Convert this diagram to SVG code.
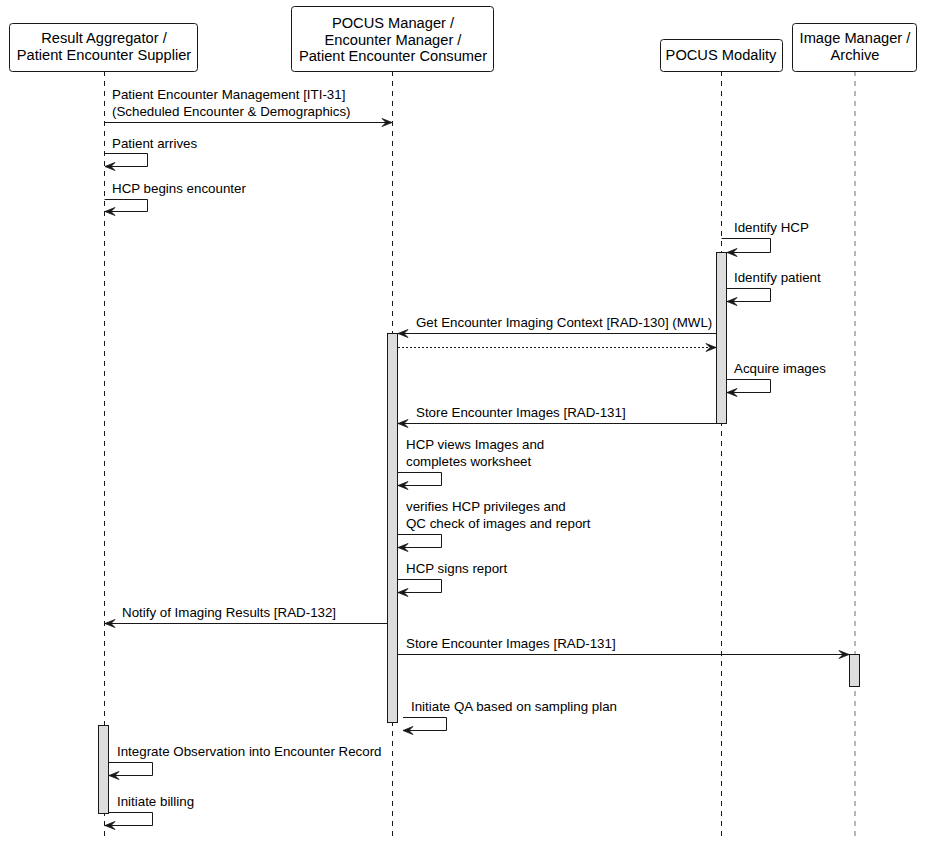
<svg xmlns="http://www.w3.org/2000/svg" width="927" height="843" viewBox="0 0 927 843">
<style>
text{font-family:"Liberation Sans",Arial,sans-serif;font-size:13.33px;fill:#000}
.h{font-size:14.67px;text-anchor:middle}
.box{fill:#fff;stroke:#181818;stroke-width:1}
.life{stroke:#181818;stroke-width:1;stroke-dasharray:5,5;fill:none}
.act{fill:#dddddd;stroke:#181818;stroke-width:1}
.msg{stroke:#181818;stroke-width:1;fill:none;marker-end:url(#ah)}
.ret{stroke:#181818;stroke-width:1;fill:none;stroke-dasharray:2,2;marker-end:url(#ah)}
</style>
<defs>
<marker id="ah" markerUnits="userSpaceOnUse" markerWidth="12" markerHeight="10" refX="11" refY="5" orient="auto">
<path d="M1,1 L11,5 L1,9 L5,5 Z" fill="#181818" stroke="#181818" stroke-width="0.8" stroke-linejoin="miter"/>
</marker>
</defs>
<rect width="927" height="843" fill="#fff"/>
<g id="lifelines">
<line class="life" x1="104.5" y1="71" x2="104.5" y2="838"/>
<line class="life" x1="392.5" y1="71" x2="392.5" y2="838"/>
<line class="life" x1="721.5" y1="71" x2="721.5" y2="838"/>
<line class="life" x1="855" y1="71" x2="855" y2="838" style="stroke:#707070"/>
</g>
<g id="p1">
<rect class="box" x="9.5" y="23.5" width="188" height="48" rx="3"/>
<text class="h" x="104" y="43">Result Aggregator /</text>
<text class="h" x="104" y="60">Patient Encounter Supplier</text>
</g>
<g id="p2">
<rect class="box" x="291.5" y="6.5" width="202" height="65" rx="3"/>
<text class="h" x="393" y="28">POCUS Manager /</text>
<text class="h" x="393" y="45">Encounter Manager /</text>
<text class="h" x="393" y="61">Patient Encounter Consumer</text>
</g>
<g id="p3">
<rect class="box" x="660.5" y="39.5" width="122" height="32" rx="3"/>
<text class="h" x="721" y="60">POCUS Modality</text>
</g>
<g id="p4">
<rect class="box" x="792.5" y="23.5" width="124" height="48" rx="3"/>
<text class="h" x="855" y="43">Image Manager /</text>
<text class="h" x="855" y="60">Archive</text>
</g>
<g id="activations">
<rect class="act" x="716.5" y="252.5" width="10" height="171"/>
<rect class="act" x="387.5" y="333.5" width="10" height="389"/>
<rect class="act" x="849.5" y="654.5" width="10" height="32"/>
<rect class="act" x="98.5" y="725.5" width="10" height="88"/>
</g>
<g id="connectors">
<line class="msg" x1="104.5" y1="122.5" x2="392" y2="122.5"/>
<polyline class="msg" points="104.5,153.5 147.5,153.5 147.5,166.5 105,166.5"/>
<polyline class="msg" points="104.5,199.5 147.5,199.5 147.5,211.5 105,211.5"/>
<polyline class="msg" points="721.5,238.5 770.5,238.5 770.5,252.5 727,252.5"/>
<polyline class="msg" points="727,288.5 770.5,288.5 770.5,301.5 727,301.5"/>
<line class="msg" x1="716" y1="333.5" x2="398" y2="333.5"/>
<line class="ret" x1="398" y1="347.5" x2="716" y2="347.5"/>
<polyline class="msg" points="727,379.5 770.5,379.5 770.5,392.5 727,392.5"/>
<line class="msg" x1="716" y1="423.5" x2="398" y2="423.5"/>
<polyline class="msg" points="398,472.5 441.5,472.5 441.5,485.5 398,485.5"/>
<polyline class="msg" points="398,534.5 441.5,534.5 441.5,547.5 398,547.5"/>
<polyline class="msg" points="398,579.5 441.5,579.5 441.5,592.5 398,592.5"/>
<line class="msg" x1="387" y1="623.5" x2="105" y2="623.5"/>
<line class="msg" x1="398" y1="654.5" x2="849" y2="654.5"/>
<polyline class="msg" points="403,717.5 446.5,717.5 446.5,730.5 403,730.5"/>
<polyline class="msg" points="109,762.5 152.5,762.5 152.5,775.5 109,775.5"/>
<polyline class="msg" points="109,812.5 152.5,812.5 152.5,825.5 105,825.5"/>
</g>
<g id="labels">
<text x="112" y="99">Patient Encounter Management [ITI-31]</text>
<text x="112" y="116">(Scheduled Encounter &amp; Demographics)</text>
<text x="112" y="148">Patient arrives</text>
<text x="112" y="193">HCP begins encounter</text>
<text x="734" y="232">Identify HCP</text>
<text x="734" y="282">Identify patient</text>
<text x="416" y="327">Get Encounter Imaging Context [RAD-130] (MWL)</text>
<text x="734" y="373">Acquire images</text>
<text x="416" y="417">Store Encounter Images [RAD-131]</text>
<text x="406" y="449">HCP views Images and</text>
<text x="406" y="466">completes worksheet</text>
<text x="406" y="511">verifies HCP privileges and</text>
<text x="406" y="528">QC check of images and report</text>
<text x="406" y="573">HCP signs report</text>
<text x="122" y="617">Notify of Imaging Results [RAD-132]</text>
<text x="406" y="648">Store Encounter Images [RAD-131]</text>
<text x="411" y="711">Initiate QA based on sampling plan</text>
<text x="117" y="756">Integrate Observation into Encounter Record</text>
<text x="117" y="806">Initiate billing</text>
</g>
</svg>
